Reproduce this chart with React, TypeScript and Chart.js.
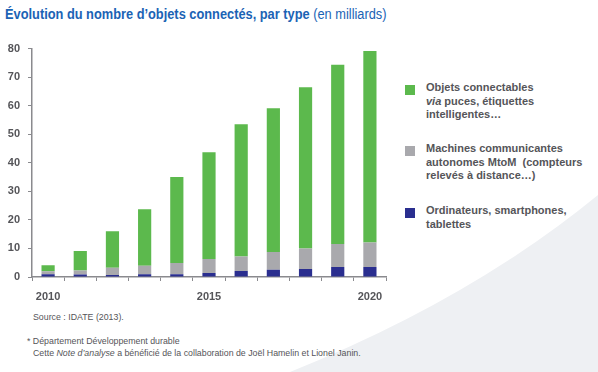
import React, { useEffect, useRef } from "react";
import { Chart, registerables } from "chart.js";

Chart.register(...registerables);

const years = ["2010", "2011", "2012", "2013", "2014", "2015", "2016", "2017", "2018", "2019", "2020"];
const ordinateurs = [1.0, 0.9, 0.7, 1.0, 1.0, 1.4, 2.1, 2.5, 2.8, 3.5, 3.5];
const machines = [1.0, 1.4, 2.5, 2.9, 3.9, 4.9, 5.1, 6.3, 7.2, 8.1, 8.6];
const objets = [2.1, 6.8, 12.8, 19.8, 30.1, 37.4, 46.3, 50.3, 56.5, 62.7, 67.1];
const shownYears = ["2010", "2015", "2020"];

const GREEN = "#5cb94d";
const GRAY = "#a9a9ad";
const NAVY = "#2a2e8f";
const TEXT = "#555559";
const AXIS = "#8a8a8e";

export default function App() {
  const ref = useRef<HTMLCanvasElement>(null);

  useEffect(() => {
    if (!ref.current) return;
    const chart = new Chart(ref.current, {
      type: "bar",
      data: {
        labels: years,
        datasets: [
          { label: "Ordinateurs, smartphones, tablettes", data: ordinateurs, backgroundColor: NAVY },
          { label: "Machines communicantes autonomes MtoM", data: machines, backgroundColor: GRAY },
          { label: "Objets connectables via puces, étiquettes intelligentes…", data: objets, backgroundColor: GREEN },
        ],
      },
      options: {
        animation: false,
        responsive: false,
        maintainAspectRatio: false,
        datasets: { bar: { barPercentage: 0.41, categoryPercentage: 1 } },
        layout: { padding: { top: 2, right: 6, left: 0, bottom: 0 } },
        plugins: { legend: { display: false }, tooltip: { enabled: false }, title: { display: false } },
        scales: {
          x: {
            stacked: true,
            grid: { offset: true, drawOnChartArea: false, color: AXIS, tickLength: 4, lineWidth: 1 },
            border: { color: AXIS, width: 1.5 },
            ticks: {
              autoSkip: false,
              maxRotation: 0,
              padding: 9,
              color: TEXT,
              font: { family: "'Liberation Sans', Arial, sans-serif", size: 11, weight: "bold" },
              callback: function (this: any, value: any) {
                const l = this.getLabelForValue(value);
                return shownYears.includes(l) ? l : "";
              },
            },
            afterFit: (s: any) => { s.height = 33; },
          },
          y: {
            stacked: true,
            min: 0,
            max: 80,
            grid: { drawOnChartArea: false, color: AXIS, tickLength: 4 },
            border: { color: AXIS, width: 1.5 },
            ticks: {
              stepSize: 10,
              padding: 8,
              color: TEXT,
              font: { family: "'Liberation Sans', Arial, sans-serif", size: 11, weight: "bold" },
            },
            afterFit: (s: any) => { s.width = 32; },
          },
        },
      },
    });
    return () => chart.destroy();
  }, []);

  const legendText: React.CSSProperties = {
    position: "absolute",
    left: 426,
    fontFamily: "'Liberation Sans', Arial, sans-serif",
    fontWeight: "bold",
    fontSize: 11,
    lineHeight: "13.5px",
    color: TEXT,
    whiteSpace: "nowrap",
  };
  const sq = (top: number, color: string): React.CSSProperties => ({
    position: "absolute",
    left: 405,
    top,
    width: 10,
    height: 10,
    background: color,
  });
  const foot: React.CSSProperties = {
    position: "absolute",
    fontFamily: "'Liberation Sans', Arial, sans-serif",
    fontSize: 8.8,
    color: TEXT,
    whiteSpace: "nowrap",
  };

  return (
    <div style={{ position: "absolute", left: 0, top: 0, width: 598, height: 372, background: "#fff", overflow: "hidden" }}>
      <svg width={598} height={372} style={{ position: "absolute", left: 0, top: 0 }}>
        <path d="M 598 195 Q 470 300 290 372 L 598 372 Z" fill="#eef0f3" />
      </svg>
      <div
        style={{
          position: "absolute",
          left: 5,
          top: 6,
          fontFamily: "'Liberation Sans', Arial, sans-serif",
          fontSize: 14,
          color: "#1b63b5",
          whiteSpace: "nowrap",
          transform: "scaleX(0.915)",
          transformOrigin: "left top",
        }}
      >
        <b>Évolution du nombre d’objets connectés, par type</b> (en milliards)
      </div>
      <canvas ref={ref} width={392} height={276} style={{ position: "absolute", left: 0, top: 34 }} />

      <div style={sq(85, GREEN)} />
      <div style={{ ...legendText, top: 81 }}>
        Objets connectables
        <br />
        <i>via</i> puces, étiquettes
        <br />
        intelligentes…
      </div>
      <div style={sq(146, GRAY)} />
      <div style={{ ...legendText, top: 142 }}>
        Machines communicantes
        <br />
        autonomes MtoM&nbsp; (compteurs
        <br />
        relevés à distance…)
      </div>
      <div style={sq(208, NAVY)} />
      <div style={{ ...legendText, top: 204 }}>
        Ordinateurs, smartphones,
        <br />
        tablettes
      </div>

      <div style={{ ...foot, left: 33, top: 312 }}>Source : IDATE (2013).</div>
      <div style={{ ...foot, left: 27, top: 336 }}>* Département Développement durable</div>
      <div style={{ ...foot, left: 33, top: 348 }}>
        Cette <i>Note d’analyse</i> a bénéficié de la collaboration de Joël Hamelin et Lionel Janin.
      </div>
    </div>
  );
}
